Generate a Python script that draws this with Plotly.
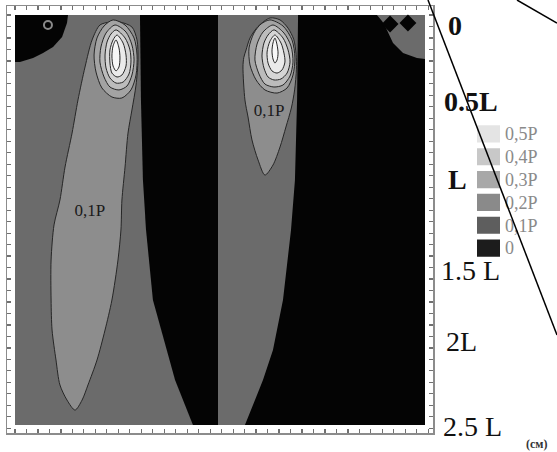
import plotly.graph_objects as go

# ---------------- data (depth and width in units of L) ----------------
field_x = [0, 2.5]
field_depth = [0, 2.5]

# zero-level (black) regions
black_tl_x = [0, 0.323, 0.317, 0.287, 0.232, 0.171, 0.110, 0.030, 0]
black_tl_d = [0, 0, 0.049, 0.134, 0.195, 0.232, 0.262, 0.287, 0.287]

black_mid_x = [0.762, 0.768, 0.780, 0.799, 0.841, 0.927, 0.976, 1.085, 1.238, 1.238]
black_mid_d = [0, 0.518, 1.006, 1.311, 1.738, 2.043, 2.226, 2.5, 2.5, 0]

black_right_x = [1.726, 2.207, 2.240, 2.268, 2.305, 2.366, 2.451, 2.5, 2.5,
                 1.402, 1.512, 1.573, 1.634, 1.683, 1.707, 1.720, 1.726]
black_right_d = [0, 0, 0.040, 0.091, 0.171, 0.232, 0.262, 0.268, 2.5,
                 2.5, 2.226, 2.043, 1.738, 1.311, 1.006, 0.518, 0]

# 0,1P iso-lines (lobes)
lobe1_x = [0.518, 0.579, 0.640, 0.713, 0.744, 0.750, 0.738, 0.713, 0.689, 0.671, 0.652,
           0.646, 0.628, 0.591, 0.549, 0.500, 0.445, 0.409, 0.366, 0.317, 0.274,
           0.250, 0.226, 0.220, 0.220, 0.238, 0.274, 0.305, 0.348, 0.384, 0.427,
           0.470, 0.518]
lobe1_d = [0.061, 0.043, 0.043, 0.073, 0.152, 0.274, 0.427, 0.579, 0.720, 0.927, 1.128,
           1.311, 1.494, 1.738, 1.921, 2.104, 2.256, 2.348, 2.409, 2.348, 2.256,
           2.104, 1.921, 1.738, 1.494, 1.280, 1.128, 0.927, 0.720, 0.518, 0.317,
           0.152, 0.061]

lobe2_x = [1.555, 1.616, 1.665, 1.700, 1.714, 1.716, 1.705, 1.685, 1.652, 1.616, 1.573,
           1.524, 1.482, 1.445, 1.421, 1.402, 1.390, 1.395, 1.409, 1.433, 1.482, 1.555]
lobe2_d = [0.018, 0.030, 0.080, 0.150, 0.240, 0.330, 0.457, 0.567, 0.683, 0.805, 0.915,
           0.976, 0.884, 0.762, 0.622, 0.518, 0.317, 0.260, 0.213, 0.140, 0.070, 0.018]

# inner iso-lines 0,2P ... 0,5P and peak (left source)
rings1_x = [
    [0.598, 0.671, 0.726, 0.744, 0.738, 0.707, 0.652, 0.591, 0.530, 0.494, 0.482, 0.500, 0.543, 0.598],
    [0.610, 0.677, 0.713, 0.726, 0.713, 0.683, 0.634, 0.579, 0.543, 0.518, 0.524, 0.555, 0.610],
    [0.616, 0.671, 0.701, 0.707, 0.695, 0.659, 0.616, 0.579, 0.555, 0.549, 0.561, 0.585, 0.616],
    [0.622, 0.659, 0.677, 0.677, 0.652, 0.622, 0.591, 0.579, 0.579, 0.598, 0.622],
    [0.616, 0.634, 0.640, 0.634, 0.616, 0.598, 0.591, 0.598, 0.616],
]
rings1_d = [
    [0.030, 0.061, 0.140, 0.244, 0.366, 0.457, 0.506, 0.500, 0.445, 0.348, 0.244, 0.140, 0.067, 0.030],
    [0.061, 0.104, 0.183, 0.274, 0.366, 0.433, 0.457, 0.439, 0.378, 0.287, 0.195, 0.110, 0.061],
    [0.091, 0.140, 0.213, 0.287, 0.360, 0.409, 0.415, 0.384, 0.323, 0.244, 0.165, 0.116, 0.091],
    [0.122, 0.171, 0.244, 0.311, 0.366, 0.378, 0.354, 0.293, 0.213, 0.152, 0.122],
    [0.152, 0.201, 0.262, 0.317, 0.341, 0.311, 0.250, 0.189, 0.152],
]

# inner iso-lines (right source)
rings2_x = [
    [1.555, 1.634, 1.689, 1.707, 1.695, 1.659, 1.598, 1.524, 1.470, 1.433, 1.427, 1.457, 1.500, 1.555],
    [1.573, 1.640, 1.683, 1.695, 1.677, 1.634, 1.579, 1.524, 1.488, 1.463, 1.476, 1.512, 1.573],
    [1.579, 1.634, 1.665, 1.677, 1.659, 1.622, 1.579, 1.543, 1.518, 1.506, 1.518, 1.543, 1.579],
    [1.585, 1.622, 1.640, 1.646, 1.628, 1.598, 1.567, 1.543, 1.537, 1.555, 1.585],
    [1.585, 1.598, 1.604, 1.598, 1.585, 1.573, 1.567, 1.573, 1.585],
]
rings2_d = [
    [0.030, 0.067, 0.152, 0.262, 0.366, 0.445, 0.476, 0.457, 0.396, 0.305, 0.201, 0.110, 0.055, 0.030],
    [0.061, 0.110, 0.189, 0.287, 0.372, 0.427, 0.439, 0.421, 0.360, 0.274, 0.177, 0.104, 0.061],
    [0.091, 0.140, 0.213, 0.287, 0.354, 0.390, 0.396, 0.378, 0.323, 0.250, 0.171, 0.122, 0.091],
    [0.122, 0.171, 0.232, 0.287, 0.335, 0.354, 0.341, 0.293, 0.226, 0.159, 0.122],
    [0.140, 0.183, 0.232, 0.274, 0.293, 0.268, 0.220, 0.171, 0.140],
]

# small marks at the surface
ring_mark_x = [0.201]
ring_mark_d = [0.061]
diamond_x = [2.287, 2.396]
diamond_d = [0.055, 0.049]

# contour labels
contour_label_text = ["0,1P", "0,1P"]
contour_label_x = [0.457, 1.549]
contour_label_d = [1.201, 0.591]

# depth scale labels
depth_labels = ["<b>0</b>", "<b>0.5L</b>", "<b>L</b>", "1.5 L", "2L", "2.5 L"]
depth_label_pos = [0.061, 0.530, 1.0, 1.555, 1.988, 2.512]
depth_label_left_px = [446, 442, 446, 439, 444, 441]

# legend
legend_labels = ["0,5P", "0,4P", "0,3P", "0,2P", "0,1P", "0"]
legend_colors = ["#e4e4e4", "#c8c8c8", "#a8a8a8", "#8a8a8a", "#5e5e5e", "#1c1c1c"]

# ---------------- styles ----------------
W, H = 557, 452
BG = "#6b6b6b"
BLACK = "#040404"
LOBE = "#8d8d8d"
RING_FILLS = ["#a3a3a3", "#bcbcbc", "#d5d5d5", "#ebebeb", "#f7f7f7"]
ISO = "#262626"
SERIF = "Liberation Serif"

fig = go.Figure()


def poly(x, y, fill, line_color=None, width=0, shape="linear"):
    fig.add_trace(go.Scatter(
        x=x, y=y, mode="lines", fill="toself", fillcolor=fill,
        line=dict(color=line_color or fill, width=width, shape=shape, smoothing=0.8),
        hoverinfo="skip", showlegend=False, xaxis="x", yaxis="y"))


poly([field_x[0], field_x[1], field_x[1], field_x[0], field_x[0]],
     [field_depth[0], field_depth[0], field_depth[1], field_depth[1], field_depth[0]], BG)
poly(black_tl_x, black_tl_d, BLACK)
poly(black_mid_x, black_mid_d, BLACK)
poly(black_right_x, black_right_d, BLACK)
poly(lobe1_x, lobe1_d, LOBE, ISO, 1, "spline")
poly(lobe2_x, lobe2_d, LOBE, ISO, 1, "spline")
for i in range(len(rings1_x)):
    poly(rings1_x[i], rings1_d[i], RING_FILLS[i], ISO, 1, "spline")
for i in range(len(rings2_x)):
    poly(rings2_x[i], rings2_d[i], RING_FILLS[i], ISO, 1, "spline")

fig.add_trace(go.Scatter(x=ring_mark_x, y=ring_mark_d, mode="markers",
                         marker=dict(symbol="circle-open", size=8, color="#8a8a8a", line=dict(width=2)),
                         showlegend=False, hoverinfo="skip"))
fig.add_trace(go.Scatter(x=diamond_x, y=diamond_d, mode="markers",
                         marker=dict(symbol="diamond", size=13, color=BLACK),
                         showlegend=False, hoverinfo="skip"))
fig.add_trace(go.Scatter(x=contour_label_x, y=contour_label_d, mode="text",
                         text=contour_label_text,
                         textfont=dict(family=SERIF, size=17, color="#1a1a1a"),
                         showlegend=False, hoverinfo="skip"))

# legend as a small bar chart
fig.add_trace(go.Bar(x=[1] * len(legend_labels), y=legend_labels, orientation="h",
                     marker=dict(color=legend_colors, line=dict(width=0)),
                     xaxis="x2", yaxis="y2", showlegend=False, hoverinfo="skip"))

# frame geometry (pixels)
frame_l, frame_r, frame_t, frame_b = 7, 433, 6, 433
inner_l, inner_t = 15, 15
ppu = 164.0  # pixels per L

fig.update_layout(
    width=W, height=H, margin=dict(l=0, r=0, t=0, b=0),
    paper_bgcolor="white", plot_bgcolor="white",
    bargap=0.25,
    xaxis=dict(domain=[frame_l / W, frame_r / W],
               range=[(frame_l - inner_l) / ppu, (frame_r - inner_l) / ppu],
               showline=True, linecolor="#8c8c8c", linewidth=1.5, mirror="ticks",
               ticks="inside", ticklen=4, tickwidth=1.2, tickcolor="#707070",
               tick0=0, dtick=0.07, showticklabels=False, showgrid=False, zeroline=False,
               fixedrange=True),
    yaxis=dict(domain=[1 - frame_b / H, 1 - frame_t / H],
               range=[(frame_b - inner_t) / ppu, (frame_t - inner_t) / ppu],
               showline=True, linecolor="#8c8c8c", linewidth=1.5, mirror="ticks",
               ticks="inside", ticklen=4, tickwidth=1.2, tickcolor="#707070",
               tick0=0, dtick=0.07, showticklabels=False, showgrid=False, zeroline=False,
               fixedrange=True),
    xaxis2=dict(domain=[477 / W, 500 / W], range=[0, 1], visible=False, anchor="y2",
                fixedrange=True),
    yaxis2=dict(domain=[1 - 259.5 / H, 1 - 122.5 / H], anchor="x2", type="category",
                categoryorder="array", categoryarray=legend_labels, autorange="reversed",
                side="right", showgrid=False, zeroline=False, showline=False, ticks="",
                ticklabelstandoff=4, fixedrange=True,
                tickfont=dict(family=SERIF, size=18, color="#8a8a8a")),
    showlegend=False,
)

for txt, pos, lx in zip(depth_labels, depth_label_pos, depth_label_left_px):
    fig.add_annotation(text=txt, x=lx / W, xref="paper", y=pos, yref="y",
                       xanchor="left", yanchor="middle", showarrow=False,
                       font=dict(family=SERIF, size=28, color="#111111"))
fig.add_annotation(text="<b>(см)</b>", x=537 / W, xref="paper", y=1 - 444 / H, yref="paper",
                   xanchor="center", yanchor="middle", showarrow=False,
                   font=dict(family=SERIF, size=12, color="#333333"))

# overlay diagonal lines
fig.add_shape(type="line", xref="paper", yref="paper", x0=428 / W, y0=1, x1=1, y1=1 - 335 / H,
              line=dict(color="black", width=1.5))
fig.add_shape(type="line", xref="paper", yref="paper", x0=517 / W, y0=1, x1=1, y1=1 - 23 / H,
              line=dict(color="black", width=1.5))

fig.write_html("out.html", config={"displayModeBar": False, "staticPlot": True},
               post_script="document.body.style.margin='0';document.body.style.overflow='hidden';")
